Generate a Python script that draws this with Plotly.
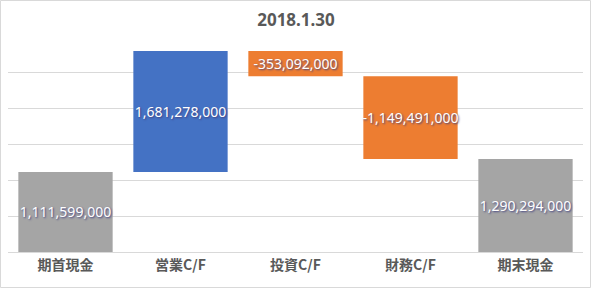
import plotly.graph_objects as go

categories = ["期首現金", "営業C/F", "投資C/F", "財務C/F", "期末現金"]
values = [1111599000, 1681278000, -353092000, -1149491000, 1290294000]
measures = ["absolute", "relative", "relative", "relative", "total"]
labels = ["1,111,599,000", "1,681,278,000", "-353,092,000", "-1,149,491,000", "1,290,294,000"]
title_text = "2018.1.30"

W, H = 592, 289
L, R, T, B = 8, 9, 36, 37
pw, ph = W - L - R, H - T - B

fig = go.Figure(go.Waterfall(
    x=categories,
    y=values,
    measure=measures,
    text=labels,
    textposition="inside",
    insidetextanchor="middle",
    textangle=0,
    constraintext="none",
    textfont=dict(family="Noto Sans", size=14, color="white",
                  shadow="1px 1px 2px #404080"),
    increasing=dict(marker=dict(color="#4472C4")),
    decreasing=dict(marker=dict(color="#ED7D31")),
    totals=dict(marker=dict(color="#A5A5A5")),
    connector=dict(visible=False),
    width=0.82,
    hoverinfo="skip",
))

fig.update_layout(
    width=W, height=H,
    margin=dict(l=L, r=R, t=T, b=B),
    paper_bgcolor="white",
    plot_bgcolor="white",
    showlegend=False,
    title=dict(text=title_text, x=0.5, xanchor="center", y=1 - 20 / H, yanchor="middle",
               font=dict(family="Noto Sans", size=17, color="#595959", weight="bold")),
    xaxis=dict(showgrid=False, showline=True, linecolor="#D9D9D9", linewidth=1,
               ticks="", tickfont=dict(family="Noto Sans CJK JP", size=14, color="#595959",
                                       weight="bold"),
               fixedrange=True),
    yaxis=dict(range=[0, 3000000000], dtick=500000000, showgrid=True, gridcolor="#D9D9D9",
               gridwidth=1, showticklabels=False, zeroline=False, fixedrange=True),
    shapes=[dict(type="rect", xref="paper", yref="paper",
                 x0=(0.5 - L) / pw, x1=(590.5 - L) / pw,
                 y0=-(287.5 - (H - B)) / ph, y1=((H - B) - 0.5) / ph,
                 line=dict(color="#D9D9D9", width=1), fillcolor="rgba(0,0,0,0)",
                 layer="below")],
)

fig.write_html("out.html")
